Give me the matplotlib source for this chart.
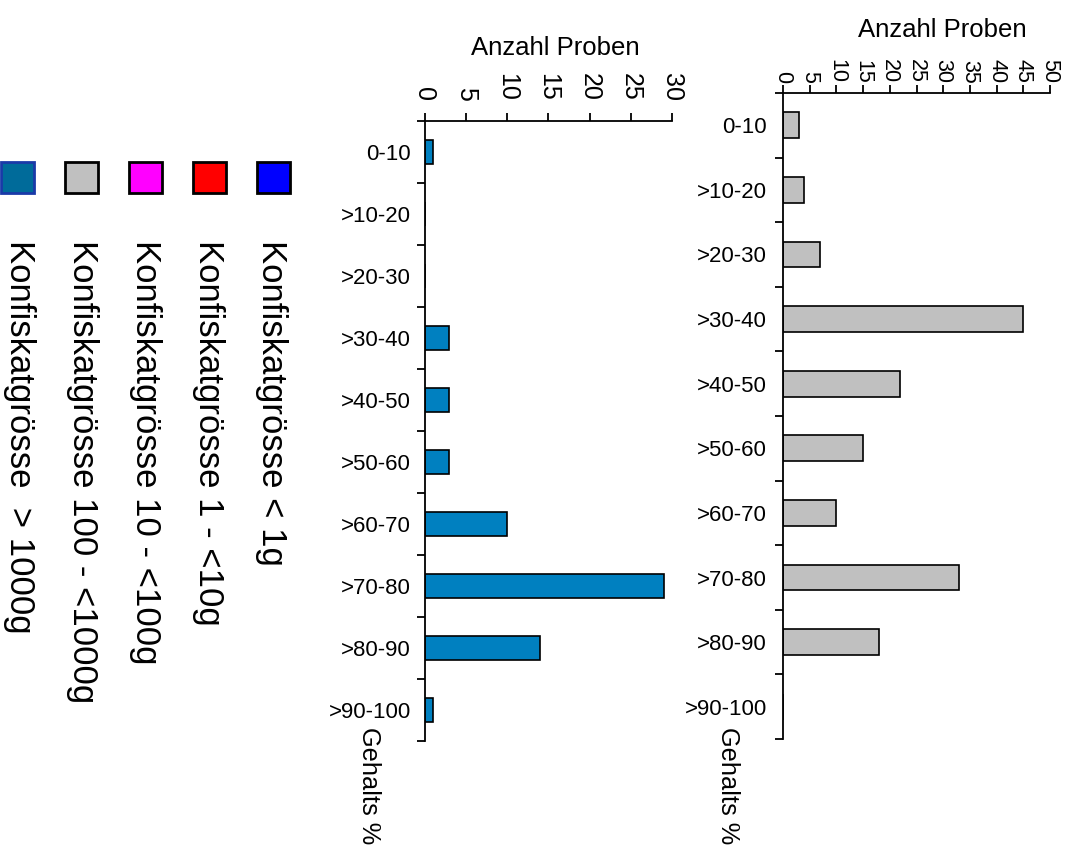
import numpy as np
import matplotlib
matplotlib.use('Agg')
import matplotlib.pyplot as plt
from matplotlib.patches import Rectangle

plt.rcParams['font.family'] = ['Liberation Sans', 'DejaVu Sans']

# data
categories = ['0-10', '>10-20', '>20-30', '>30-40', '>40-50',
              '>50-60', '>60-70', '>70-80', '>80-90', '>90-100']
proben_gt1000 = [1, 0, 0, 3, 3, 3, 10, 29, 14, 1]      # left panel
proben_100_1000 = [3, 4, 7, 45, 22, 15, 10, 33, 18, 0]  # right panel

legend_labels = ['Konfiskatgrösse < 1g', 'Konfiskatgrösse 1 - <10g',
                 'Konfiskatgrösse 10 - <100g', 'Konfiskatgrösse 100 - <1000g',
                 'Konfiskatgrösse  > 1000g']
legend_colors = ['#0000ff', '#ff0000', '#ff00ff', '#c0c0c0', '#006b9a']
legend_edges = ['black', 'black', 'black', 'black', '#1a3aa8']

W, H = 1071, 848


def fx(x):
    return x / W


def fy(y):
    return 1 - y / H


fig = plt.figure(figsize=(W / 100, H / 100), dpi=100)


def panel(rect, values, color, xmax, xstep, tick_fs, tick_pad, ylab_pad):
    x0, y0, x1, y1 = rect
    ax = fig.add_axes([fx(x0), fy(y1), fx(x1) - fx(x0), fy(y0) - fy(y1)])
    ypos = np.arange(len(categories))
    ax.barh(ypos, values, height=0.4, color=color, edgecolor='black', linewidth=1.2)
    ax.set_xlim(0, xmax)
    ax.set_ylim(len(categories) - 0.5, -0.5)
    ax.spines['right'].set_visible(False)
    ax.spines['bottom'].set_visible(False)
    for s in ['left', 'top']:
        ax.spines[s].set_linewidth(1.3)
    ax.xaxis.tick_top()
    ax.set_xticks(np.arange(0, xmax + 1, xstep))
    ax.tick_params(axis='x', direction='out', length=6, width=1.3,
                   labelsize=tick_fs, pad=tick_pad, labelrotation=270)
    # ticks between the classes, labels in the middle
    ax.set_yticks(np.arange(-0.5, len(categories), 1))
    ax.set_yticklabels([])
    ax.set_yticks(ypos, minor=True)
    ax.set_yticklabels(categories, minor=True)
    ax.tick_params(axis='y', which='major', direction='out', length=6, width=1.3)
    ax.tick_params(axis='y', which='minor', length=0, labelsize=16, pad=ylab_pad)
    return ax


ax1 = panel((424.5, 121, 672, 741), proben_gt1000, '#0080c0', 30, 5, 18, 8.5, 9.8)
ax2 = panel((783, 93, 1050, 739), proben_100_1000, '#c0c0c0', 50, 5, 15.5, 1.0, 11.5)

# axis titles
fig.text(fx(555.5), fy(55), 'Anzahl Proben', ha='center', va='baseline', fontsize=18.5)
fig.text(fx(942), fy(37), 'Anzahl Proben', ha='center', va='baseline', fontsize=18.5)
for bx in [362, 721]:
    fig.text(fx(bx), fy(727), 'Gehalts %', rotation=270, rotation_mode='anchor',
             ha='left', va='baseline', fontsize=18.3)

# legend drawn by hand, columns right to left
for i, (lab, col, ec) in enumerate(zip(legend_labels, legend_colors, legend_edges)):
    px = 257 - i * 64
    fig.add_artist(Rectangle((fx(px), fy(193)), fx(33), 31 / H, facecolor=col,
                             edgecolor=ec, linewidth=2, transform=fig.transFigure))
    fig.text(fx(262 - i * 63), fy(240), lab, rotation=270, rotation_mode='anchor',
             ha='left', va='baseline', fontsize=25)

fig.savefig('out.png', dpi=100)
